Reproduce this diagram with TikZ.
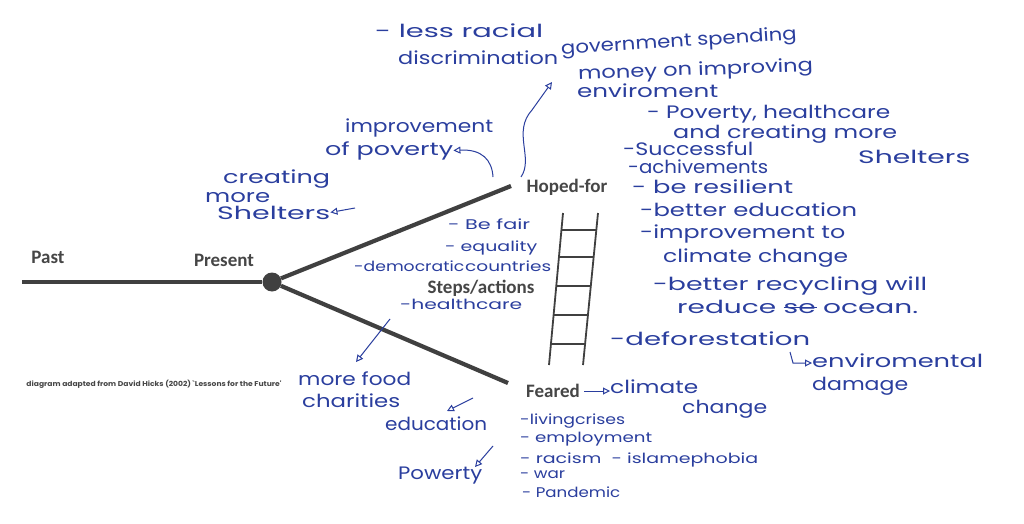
\documentclass[tikz,border=0pt]{standalone}
\usepackage{fontspec}
\usepackage{graphicx}
\setmainfont{Carlito}
\newfontfamily\hand{Poppins}
\usetikzlibrary{arrows.meta}
\definecolor{hwblue}{RGB}{42,62,158}
\definecolor{ink}{RGB}{64,64,64}
\definecolor{labelgrey}{RGB}{70,70,70}
\newcommand\hwt[2]{\resizebox{#1pt}{\height}{#2}}
\begin{document}
\begin{tikzpicture}[x=1pt,y=-1pt,
  mainline/.style={draw=ink,line width=4.2pt},
  rail/.style={draw=ink,line width=1.8pt},
  lbl/.style={font=\fontsize{19}{19}\selectfont\bfseries,text=labelgrey,inner sep=0pt},
  hw/.style={font=\hand\fontsize{18}{18}\selectfont,text=hwblue,inner sep=0pt,anchor=base west},
  hwsmall/.style={font=\hand\fontsize{14}{14}\selectfont,text=hwblue,inner sep=0pt,anchor=base west},
  hwarrow/.style={draw=hwblue,line width=1pt,-{Triangle[open,length=7pt,width=7pt]}},
  dot/.style={circle,fill=ink,minimum size=19pt,inner sep=0pt}]
\fill[white] (0,0) rectangle (1024,524);
\useasboundingbox (0,0) rectangle (1024,524);

% timeline
\coordinate (pastend) at (22,282);
\node[dot] (now) at (272,282) {};
\coordinate (hopeend) at (511,186);
\coordinate (fearend) at (508,383);
\draw[mainline] (pastend) -- (now.west);
\draw[mainline] (now) -- (hopeend);
\draw[mainline] (now) -- (fearend);

\node[lbl] (past) at (48,257) {Past};
\node[lbl] (present) at (224,260) {Present};
\node[lbl] (hoped) at (567,187) {Hoped-for};
\node[lbl] (feared) at (553,391) {Feared};
\node[lbl] (steps) at (481,288) {Steps/actions};

\node[font=\hand\fontsize{7}{7}\selectfont\bfseries,text=labelgrey,inner sep=0pt] (source) at (154,384)
  {\hwt{255}{diagram adapted from David Hicks (2002) `Lessons for the Future'}};

% ladder
\draw[rail] (563,213) -- (549,365);
\draw[rail] (598,213) -- (583,365);
\foreach \y in {230,257,286,315,344}{
  \pgfmathsetmacro{\xl}{563-14*(\y-213)/152}
  \pgfmathsetmacro{\xr}{598-15*(\y-213)/152}
  \draw[rail] (\xl,\y) -- (\xr,\y);
}

% handwriting top
\node[hw] (lessracial) at (375,38) {\hwt{168}{- less racial}};
\node[hw] (discrim) at (398,65) {\hwt{160}{discrimination}};
\node[hw,anchor=west,rotate=3.6] (gov) at (561,50) {\hwt{236}{government spending}};
\node[hw,anchor=west,rotate=2] (money) at (578,75) {\hwt{235}{money on improving}};
\node[hw] (envir) at (577,97) {\hwt{141}{enviroment}};
\node[hw] (povhealth) at (647,118) {\hwt{243}{- Poverty, healthcare}};
\node[hw] (andcreat) at (673,138) {\hwt{224}{and creating more}};
\node[hw] (shelR) at (858,163) {\hwt{112}{Shelters}};
\node[hw] (succ) at (623,155) {\hwt{130}{-Successful}};
\node[hw] (achiv) at (628,173) {\hwt{140}{-achivements}};
\node[hw] (resil) at (632,193) {\hwt{161}{- be resilient}};
\node[hw] (educ) at (640,216) {\hwt{217}{-better education}};
\node[hw] (improvto) at (640,238) {\hwt{205}{-improvement to}};
\node[hw] (climch) at (663,262) {\hwt{185}{climate change}};
\node[hw] (recyc) at (653,290) {\hwt{274}{-better recycling will}};
\node[hw] (reduce) at (677,313) {\hwt{241}{reduce \rlap{\rule[0.28em]{1.2em}{0.9pt}}se ocean.}};
\node[hw] (defor) at (610,345) {\hwt{200}{-deforestation}};
\node[hw] (envdam) at (812,367) {\hwt{171}{enviromental}};
\node[hw] (damage) at (812,390) {\hwt{96}{damage}};
\node[hw] (climate) at (610,393) {\hwt{88}{climate}};
\node[hw] (change) at (682,413) {\hwt{85}{change}};

% feared list
\node[hwsmall] (living) at (520,424) {\hwt{105}{-livingcrises}};
\node[hwsmall] (employ) at (520,442) {\hwt{132}{- employment}};
\node[hwsmall] (racism) at (520,463) {\hwt{238}{- racism \ - islamephobia}};
\node[hwsmall] (war) at (520,478) {\hwt{45}{- war}};
\node[hwsmall] (pandemic) at (522,497) {\hwt{98}{- Pandemic}};

% left side
\node[hw] (morefood) at (298,385) {\hwt{113}{more food}};
\node[hw] (charities) at (302,407) {\hwt{98}{charities}};
\node[hw] (education) at (385,430) {\hwt{102}{education}};
\node[hw] (powerty) at (398,479) {\hwt{84}{Powerty}};
\node[hw] (creating) at (223,183) {\hwt{107}{creating}};
\node[hw] (more) at (205,202) {\hwt{65}{more}};
\node[hw] (shelL) at (217,219) {\hwt{113}{Shelters}};
\node[hw] (improvement) at (345,132) {\hwt{148}{improvement}};
\node[hw] (ofpoverty) at (325,155) {\hwt{128}{of poverty}};

% steps
\node[hwsmall] (befair) at (448,229) {\hwt{82}{- Be fair}};
\node[hwsmall] (equality) at (445,251) {\hwt{92}{- equality}};
\node[hwsmall] (democratic) at (354,271) {\hwt{110}{-democratic}};
\node[hwsmall] (countries) at (465,271) {\hwt{86}{countries}};
\node[hwsmall] (healthcare) at (400,309) {\hwt{122}{-healthcare}};

% handwritten arrows
\coordinate (a1s) at (521,177);
\coordinate (a1e) at (552,82);
\draw[hwarrow] (a1s) .. controls (534,158) and (512,132) .. (532,110) -- (a1e);
\coordinate (a2s) at (493,177);
\draw[hwarrow] (a2s) .. controls (492,160) and (482,149) .. (ofpoverty.east);
\coordinate (a3s) at (355,208);
\draw[hwarrow] (a3s) -- (shelL.east);
\coordinate (a4s) at (390,319);
\draw[hwarrow] (a4s) -- (356,362);
\coordinate (a5s) at (473,398);
\draw[hwarrow] (a5s) -- (447,411);
\coordinate (a6s) at (493,446);
\draw[hwarrow] (a6s) -- (475,467);
\draw[hwarrow] ([xshift=4pt]feared.east) -- (climate.west |- feared.east);
\coordinate (hookTop) at (790,352);
\draw[hwarrow] (hookTop) -- (793,363) -- (envdam.west |- 0,363);
\end{tikzpicture}
\end{document}
